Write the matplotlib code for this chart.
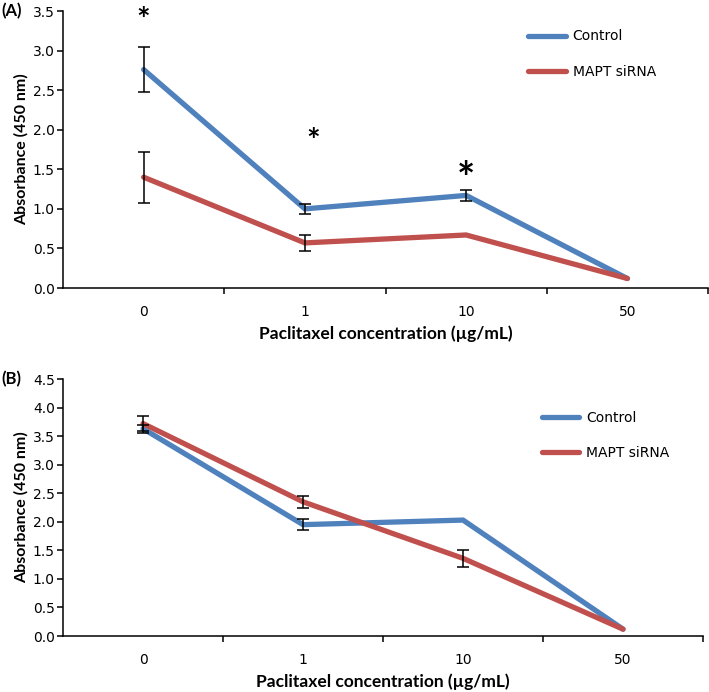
import matplotlib
matplotlib.use('Agg')
from matplotlib import pyplot as plt
import numpy as np

# data
conc = ['0', '1', '10', '50']

ctrl_a = [2.76, 1.00, 1.17, 0.12]
ctrl_a_err = [0.28, 0.06, 0.07, 0.0]
sirna_a = [1.40, 0.57, 0.67, 0.12]
sirna_a_err = [0.32, 0.105, 0.0, 0.0]

ctrl_b = [3.63, 1.95, 2.03, 0.12]
ctrl_b_err = [0.07, 0.10, 0.0, 0.0]
sirna_b = [3.72, 2.35, 1.36, 0.12]
sirna_b_err = [0.13, 0.10, 0.15, 0.0]

# significance stars for panel A: (x, y, size)
stars_a = [(0.0, 3.37, 23), (1.05, 1.84, 23), (2.0, 1.37, 31)]

BLUE = '#4F81BD'
RED = '#C0504D'
LBL = ['Lato', 'DejaVu Sans']


def panel(ax, ctrl, ctrl_err, sirna, sirna_err, ymax, letter, leg_xy):
    x = np.arange(len(conc))
    ax.plot(x, ctrl, color=BLUE, lw=3.8, solid_capstyle='round',
            solid_joinstyle='miter', label='Control', zorder=2)
    ax.plot(x, sirna, color=RED, lw=3.8, solid_capstyle='round',
            solid_joinstyle='miter', label='MAPT siRNA', zorder=2)
    for vals, errs in [(ctrl, ctrl_err), (sirna, sirna_err)]:
        m = np.array(errs) > 0
        ax.errorbar(x[m], np.array(vals)[m], yerr=np.array(errs)[m], fmt='none',
                    ecolor='black', elinewidth=1.1, capsize=4.5, capthick=1.1,
                    zorder=3)
    ax.set_xlim(-0.5, 3.5)
    ax.set_ylim(0, ymax)
    ax.set_yticks(np.arange(0, ymax + 0.01, 0.5))
    ax.set_yticklabels(['%.1f' % v for v in np.arange(0, ymax + 0.01, 0.5)],
                       fontsize=10)
    ax.set_xticks([0.5, 1.5, 2.5, 3.5])
    ax.set_xticklabels([])
    ax.set_xticks(x, minor=True)
    ax.set_xticklabels(conc, minor=True, fontsize=10)
    ax.tick_params(axis='x', which='minor', length=0, pad=12)
    ax.tick_params(axis='x', which='major', length=4, width=1.1, direction='out')
    ax.tick_params(axis='y', length=4, width=1.1, direction='out', pad=2)
    for s in ['top', 'right']:
        ax.spines[s].set_visible(False)
    for s in ['left', 'bottom']:
        ax.spines[s].set_linewidth(1.1)
    ax.set_ylabel('Absorbance (450 nm)', fontsize=11.5, fontweight='bold',
                  family=LBL, labelpad=3)
    ax.set_xlabel('Paclitaxel concentration (\u00b5g/mL)', fontsize=12.5,
                  fontweight='bold', family=LBL, labelpad=5)
    ax.text(-0.096, 1.0, letter, transform=ax.transAxes, fontsize=12,
            fontweight='bold', family=LBL, ha='left', va='center')
    ax.legend(loc='center left', bbox_to_anchor=leg_xy, frameon=False,
              fontsize=10, handlelength=2.7, handletextpad=0.5,
              labelspacing=1.55, borderpad=0, borderaxespad=0)


fig = plt.figure(figsize=(7.09, 6.92), dpi=100)
ax_a = fig.add_axes([0.0889, 0.5838, 0.9097, 0.4003])
ax_b = fig.add_axes([0.0889, 0.0809, 0.9027, 0.3714])

panel(ax_a, ctrl_a, ctrl_a_err, sirna_a, sirna_a_err, 3.5, '(A)', (0.721, 0.844))
panel(ax_b, ctrl_b, ctrl_b_err, sirna_b, sirna_b_err, 4.5, '(B)', (0.748, 0.78))

for sx, sy, size in stars_a:
    ax_a.text(sx, sy, '*', fontsize=size, ha='center', va='center',
              family=LBL, fontweight='bold')

fig.savefig('out.png', dpi=100)
